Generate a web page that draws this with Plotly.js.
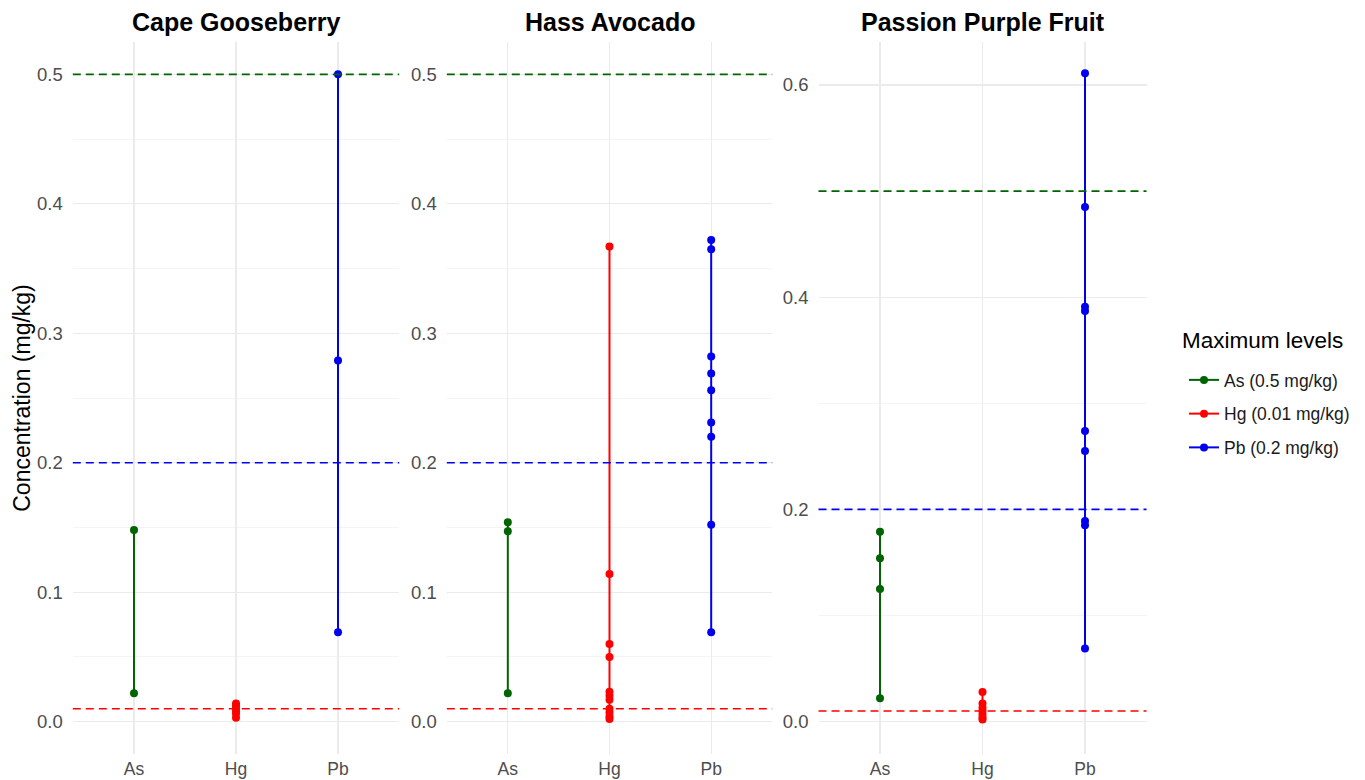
<!DOCTYPE html>
<html>
<head>
<meta charset="utf-8">
<script src="https://cdn.plot.ly/plotly-3.0.1.min.js"></script>
<style>html,body{margin:0;padding:0;background:#fff;}#chart{width:1365px;height:780px;}</style>
</head>
<body>
<div id="chart"></div>
<script>
// ---- Data ----
const fruits = ["Cape Gooseberry", "Hass Avocado", "Passion Purple Fruit"];
const elements = ["As", "Hg", "Pb"];
const legendNames = ["As (0.5 mg/kg)", "Hg (0.01 mg/kg)", "Pb (0.2 mg/kg)"];
const maxLevels = [0.5, 0.01, 0.2];
const colors = ["#006400", "#FF0000", "#0000EE"];

const capeAs = [0.148, 0.022];
const capeHg = [0.014, 0.012, 0.010, 0.008, 0.006, 0.003];
const capePb = [0.500, 0.279, 0.069];

const avocadoAs = [0.154, 0.147, 0.022];
const avocadoHg = [0.367, 0.114, 0.060, 0.050, 0.023, 0.020, 0.017, 0.010, 0.007, 0.004, 0.002];
const avocadoPb = [0.372, 0.365, 0.282, 0.269, 0.256, 0.231, 0.220, 0.152, 0.069];

const passionAs = [0.179, 0.154, 0.125, 0.022];
const passionHg = [0.028, 0.017, 0.013, 0.010, 0.007, 0.004, 0.002];
const passionPb = [0.611, 0.485, 0.391, 0.387, 0.274, 0.255, 0.189, 0.185, 0.069];

const panelData = [
  [capeAs, capeHg, capePb],
  [avocadoAs, avocadoHg, avocadoPb],
  [passionAs, passionHg, passionPb]
];

// ---- Layout geometry ----
const W = 1365, H = 780;
const panelsPx = [[72.8, 399.2], [446.8, 772.2], [818.5, 1146.5]];
const yTopPx = 42, yBotPx = 754;
const yRanges = [[-0.025, 0.525], [-0.025, 0.525], [-0.0305, 0.6405]];
const yDticks = [0.1, 0.1, 0.2];

const traces = [];
const shapes = [];
const annotations = [];
const layout = {
  width: W, height: H,
  margin: {l: 0, r: 0, t: 0, b: 0},
  paper_bgcolor: "#fff", plot_bgcolor: "#fff",
  font: {family: "Liberation Sans, Arial, sans-serif", color: "#4d4d4d"},
  showlegend: true,
  legend: {
    x: 1184 / W, y: 1 - 362 / H, xanchor: "left", yanchor: "top",
    font: {size: 17.5, color: "#1a1a1a"},
    tracegroupgap: 8,
    itemwidth: 30
  },
  shapes: shapes,
  annotations: annotations
};

annotations.push({
  text: "Maximum levels", xref: "paper", yref: "paper",
  x: 1180 / W, y: 1 - 340 / H, xanchor: "left", yanchor: "middle",
  showarrow: false, font: {size: 22.5, color: "#000"}
});

fruits.forEach((fruit, p) => {
  const ax = p === 0 ? "" : String(p + 1);
  const xa = "x" + ax, ya = "y" + ax;
  layout["xaxis" + ax] = {
    domain: [panelsPx[p][0] / W, panelsPx[p][1] / W],
    anchor: ya,
    type: "category",
    categoryorder: "array", categoryarray: elements,
    range: [-0.6, 2.6],
    showgrid: true, gridcolor: "#ebebeb", gridwidth: 1.2,
    zeroline: false, showline: false, ticks: "",
    ticklabelstandoff: 2,
    tickfont: {size: 17.5, color: "#4d4d4d"},
    fixedrange: true
  };
  layout["yaxis" + ax] = {
    domain: [1 - yBotPx / H, 1 - yTopPx / H],
    anchor: xa,
    range: yRanges[p],
    dtick: yDticks[p], tick0: 0,
    tickformat: ".1f",
    showgrid: true, gridcolor: "#ebebeb", gridwidth: 1.2,
    minor: {dtick: yDticks[p] / 2, showgrid: true, gridcolor: "#f4f4f4", gridwidth: 1, ticks: ""},
    zeroline: false, showline: false, ticks: "",
    ticklabelstandoff: 9,
    tickfont: {size: 18.5, color: "#4d4d4d"},
    fixedrange: true
  };
  if (p === 0) {
    layout.yaxis.title = {text: "Concentration (mg/kg)", font: {size: 23, color: "#000"}, standoff: 0};
  }
  annotations.push({
    text: "<b>" + fruit + "</b>", xref: "paper", yref: "paper",
    x: (panelsPx[p][0] + panelsPx[p][1]) / 2 / W, y: 1 - 22 / H,
    xanchor: "center", yanchor: "middle", showarrow: false,
    font: {size: 25, color: "#000"}
  });
  elements.forEach((el, i) => {
    const vals = panelData[p][i];
    traces.push({
      type: "scatter", mode: "lines+markers",
      x: vals.map(() => el), y: vals,
      xaxis: xa, yaxis: ya,
      name: legendNames[i], legendgroup: el,
      showlegend: p === 0,
      line: {color: colors[i], width: 2},
      marker: {color: colors[i], size: 8},
      hoverinfo: "x+y"
    });
    shapes.push({
      type: "line", xref: xa + " domain", yref: ya,
      x0: 0, x1: 1, y0: maxLevels[i], y1: maxLevels[i],
      line: {color: colors[i], width: 1.6, dash: "8px,5px"},
      layer: "above"
    });
  });
});

Plotly.newPlot("chart", traces, layout, {displayModeBar: false, staticPlot: true});
</script>
</body>
</html>
